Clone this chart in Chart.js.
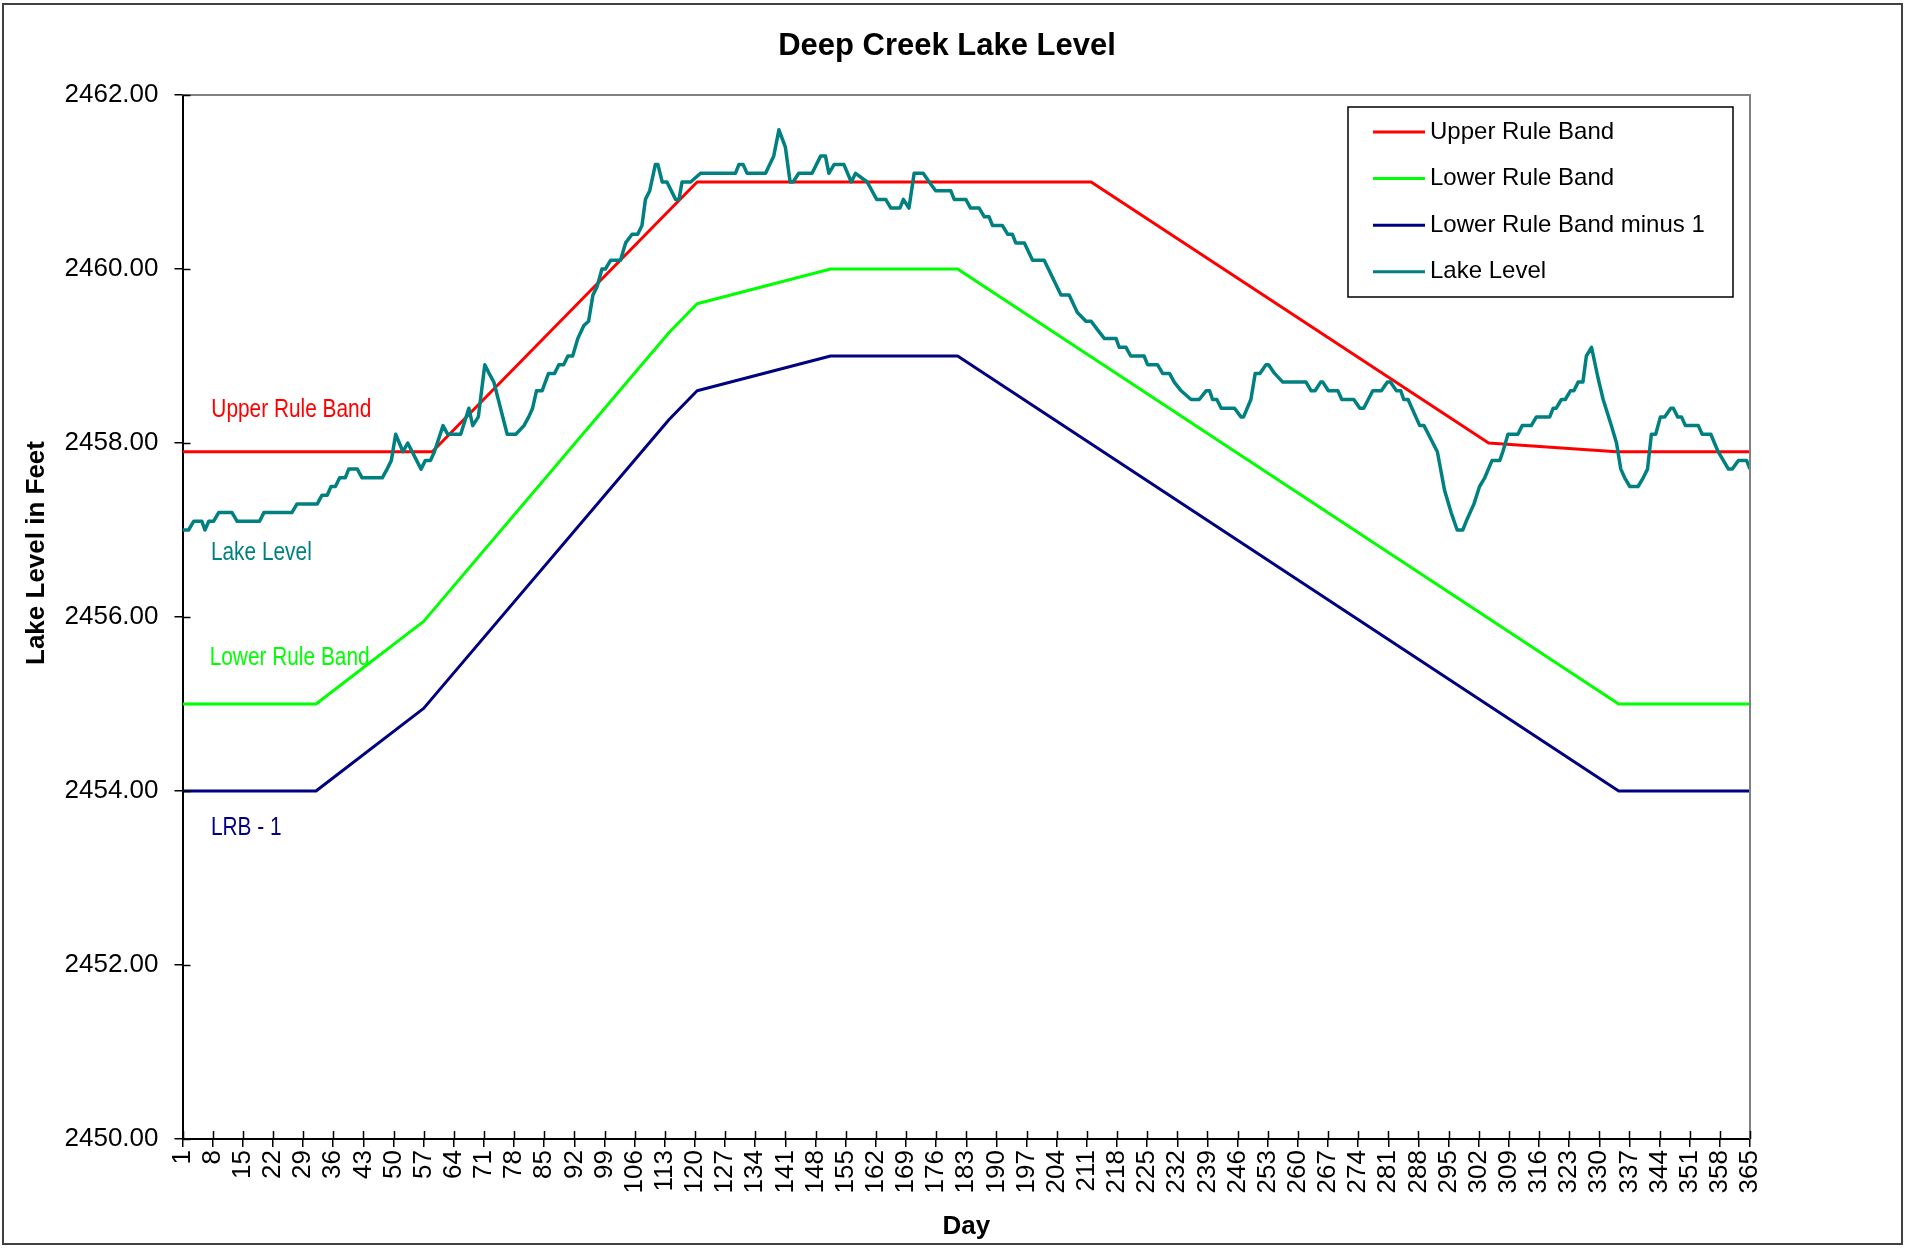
<!DOCTYPE html>
<html>
<head>
<meta charset="utf-8">
<title>Deep Creek Lake Level</title>
<script src="https://cdn.jsdelivr.net/npm/chart.js@4.4.1/dist/chart.umd.min.js"></script>
<style>
  html, body { margin: 0; padding: 0; background: #fff; }
  #wrap { position: relative; width: 1908px; height: 1248px; }
</style>
</head>
<body>
<div id="wrap"><canvas id="chart" width="1908" height="1248"></canvas></div>
<script>
// Deep Creek Lake level vs. rule bands, one calendar year (day 1..365)
// Values; [day, feet] vertices of each line

const DAY_TICKS = [1, 8, 15, 22, 29, 36, 43, 50, 57, 64, 71, 78, 85, 92, 99, 106, 113, 120, 127,
  134, 141, 148, 155, 162, 169, 176, 183, 190, 197, 204, 211, 218, 225, 232, 239, 246, 253, 260,
  267, 274, 281, 288, 295, 302, 309, 316, 323, 330, 337, 344, 351, 358, 365];

const UPPER_BAND = [[1, 2457.9], [59, 2457.9], [120.5, 2461.0], [212, 2461.0], [304.3, 2458.0],
  [334, 2457.9], [365, 2457.9]];

const LOWER_BAND = [[1, 2455.0], [32, 2455.0], [57, 2455.95], [114, 2459.27], [120.5, 2459.6],
  [151.5, 2460.0], [181, 2460.0], [334.5, 2455.0], [365, 2455.0]];

const LOWER_BAND_MINUS_1 = [[1, 2454.0], [32, 2454.0], [57, 2454.95], [114, 2458.27], [120.5, 2458.6],
  [151.5, 2459.0], [181, 2459.0], [334.5, 2454.0], [365, 2454.0]];

const LAKE_LEVEL = [
  [1, 2457.0], [2.4, 2457.0], [3.6, 2457.1], [5.5, 2457.1], [6.2, 2457.0], [7.1, 2457.1], [8.2, 2457.1],
  [9.4, 2457.2], [12.5, 2457.2], [13.7, 2457.1], [18.9, 2457.1], [19.9, 2457.2], [26.4, 2457.2],
  [27.6, 2457.3], [32.3, 2457.3], [33.4, 2457.4], [34.6, 2457.4], [35.5, 2457.5], [36.5, 2457.5],
  [37.5, 2457.6], [38.8, 2457.6], [39.6, 2457.7], [41.6, 2457.7], [42.7, 2457.6], [47.4, 2457.6],
  [48.5, 2457.7], [49.5, 2457.8], [50.5, 2458.1], [52.2, 2457.9], [53.3, 2458.0], [56.4, 2457.7],
  [57.4, 2457.8], [58.6, 2457.8], [59.5, 2457.9], [61.5, 2458.2], [62.6, 2458.1], [65.6, 2458.1],
  [67.5, 2458.4], [68.4, 2458.2], [69.7, 2458.3], [71.2, 2458.9], [72.2, 2458.8], [73.3, 2458.7],
  [76.4, 2458.1], [78.4, 2458.1], [80.3, 2458.2], [81.4, 2458.3], [82.3, 2458.4], [83.2, 2458.6],
  [84.5, 2458.6], [86.0, 2458.8], [87.4, 2458.8], [88.4, 2458.9], [89.5, 2458.9], [90.5, 2459.0],
  [91.6, 2459.0], [92.8, 2459.2], [94.2, 2459.35], [95.3, 2459.4], [96.3, 2459.7], [97.3, 2459.8],
  [98.4, 2460.0], [99.2, 2460.0], [100.4, 2460.1], [102.7, 2460.1], [103.9, 2460.3], [105.4, 2460.4],
  [106.7, 2460.4], [107.7, 2460.5], [108.5, 2460.8], [109.5, 2460.9], [110.8, 2461.2], [111.4, 2461.2],
  [112.4, 2461.0], [113.5, 2461.0], [115.5, 2460.8], [116.3, 2460.8], [117.0, 2461.0], [119.0, 2461.0],
  [121.3, 2461.1], [129.4, 2461.1], [130.2, 2461.2], [131.2, 2461.2], [132.1, 2461.1], [136.4, 2461.1],
  [138.3, 2461.3], [139.5, 2461.6], [141.0, 2461.4], [142.1, 2461.0], [142.8, 2461.0], [144.1, 2461.1],
  [147.2, 2461.1], [149.2, 2461.3], [150.3, 2461.3], [151.1, 2461.1], [152.3, 2461.2], [154.6, 2461.2],
  [156.3, 2461.0], [157.3, 2461.1], [160.0, 2461.0], [162.2, 2460.8], [164.3, 2460.8], [165.5, 2460.7],
  [167.6, 2460.7], [168.4, 2460.8], [169.7, 2460.7], [170.9, 2461.1], [173.0, 2461.1], [174.4, 2461.0],
  [175.9, 2460.9], [179.4, 2460.9], [180.2, 2460.8], [182.9, 2460.8], [184.0, 2460.7], [186.0, 2460.7],
  [187.2, 2460.6], [188.3, 2460.6], [189.1, 2460.5], [191.4, 2460.5], [192.6, 2460.4], [193.7, 2460.4],
  [194.5, 2460.3], [196.5, 2460.3], [198.4, 2460.1], [201.1, 2460.1], [205.0, 2459.7], [206.9, 2459.7],
  [208.8, 2459.5], [210.8, 2459.4], [212.0, 2459.4], [213.5, 2459.3], [215.1, 2459.2], [217.8, 2459.2],
  [218.5, 2459.1], [220.1, 2459.1], [221.2, 2459.0], [224.3, 2459.0], [225.1, 2458.9], [227.4, 2458.9],
  [228.6, 2458.8], [230.2, 2458.8], [231.3, 2458.7], [232.9, 2458.6], [235.2, 2458.5], [237.1, 2458.5],
  [238.7, 2458.6], [239.5, 2458.6], [240.2, 2458.5], [241.2, 2458.5], [242.2, 2458.4], [245.3, 2458.4],
  [246.8, 2458.3], [247.4, 2458.3], [249.1, 2458.5], [250.1, 2458.8], [251.2, 2458.8], [252.6, 2458.9],
  [253.2, 2458.9], [254.6, 2458.8], [256.5, 2458.7], [261.9, 2458.7], [263.1, 2458.6], [264.0, 2458.6],
  [265.3, 2458.7], [265.8, 2458.7], [267.1, 2458.6], [269.3, 2458.6], [270.2, 2458.5], [273.0, 2458.5],
  [274.4, 2458.4], [275.3, 2458.4], [277.4, 2458.6], [279.4, 2458.6], [280.8, 2458.7], [281.5, 2458.7],
  [282.9, 2458.6], [283.9, 2458.6], [284.6, 2458.5], [285.6, 2458.5], [288.3, 2458.2], [289.3, 2458.2],
  [292.4, 2457.9], [294.1, 2457.45], [295.6, 2457.2], [297.0, 2457.0], [298.3, 2457.0], [299.1, 2457.1],
  [300.9, 2457.3], [302.2, 2457.5], [303.4, 2457.6], [305.1, 2457.8], [306.9, 2457.8], [307.6, 2457.9],
  [308.8, 2458.1], [311.1, 2458.1], [312.1, 2458.2], [314.2, 2458.2], [315.4, 2458.3], [318.5, 2458.3],
  [319.3, 2458.4], [320.0, 2458.4], [321.2, 2458.5], [322.1, 2458.5], [323.3, 2458.6], [324.1, 2458.6],
  [325.1, 2458.7], [326.2, 2458.7], [327.0, 2459.0], [328.2, 2459.1], [329.7, 2458.75], [330.9, 2458.5],
  [332.8, 2458.2], [334.0, 2458.0], [335.0, 2457.7], [335.9, 2457.6], [337.1, 2457.5], [339.0, 2457.5],
  [340.2, 2457.6], [341.2, 2457.7], [342.1, 2458.1], [343.1, 2458.1], [344.2, 2458.3], [345.2, 2458.3],
  [346.6, 2458.4], [347.2, 2458.4], [348.2, 2458.3], [349.1, 2458.3], [350.0, 2458.2], [353.0, 2458.2],
  [353.9, 2458.1], [355.9, 2458.1], [357.6, 2457.9], [360.0, 2457.7], [360.9, 2457.7], [362.3, 2457.8],
  [364.2, 2457.8], [365, 2457.7]
];

const FONT = '"Liberation Sans", Arial, Helvetica, sans-serif';
Chart.defaults.font.family = FONT;
Chart.defaults.color = '#000';

const toXY = pts => pts.map(([x, y]) => ({ x, y }));

const AXIS_GRID = { drawOnChartArea: false, drawTicks: true, tickLength: 8, color: '#000', lineWidth: 1.5 };

// title, y title, in-plot notes, legend, borders (Excel look)
const decor = {
  id: 'decor',
  beforeDraw(chart) {
    const { ctx, width, height } = chart;
    ctx.save();
    ctx.fillStyle = '#fff';
    ctx.fillRect(0, 0, width, height);
    ctx.restore();
  },
  afterDraw(chart) {
    const { ctx, chartArea: a, scales: { x, y } } = chart;
    ctx.save();

    // plot border top + right
    ctx.strokeStyle = '#808080';
    ctx.lineWidth = 2;
    ctx.beginPath();
    ctx.moveTo(a.left, a.top);
    ctx.lineTo(a.right, a.top);
    ctx.lineTo(a.right, a.bottom);
    ctx.stroke();

    // inner half of the "cross" tick marks
    ctx.strokeStyle = '#000';
    ctx.lineWidth = 1.5;
    ctx.beginPath();
    x.ticks.forEach(t => {
      const px = Math.round(x.getPixelForValue(t.value)) + 0.5;
      ctx.moveTo(px, a.bottom);
      ctx.lineTo(px, a.bottom - 8);
    });
    y.ticks.forEach(t => {
      const py = Math.round(y.getPixelForValue(t.value)) + 0.5;
      ctx.moveTo(a.left, py);
      ctx.lineTo(a.left + 8, py);
    });
    ctx.stroke();

    // chart title
    ctx.fillStyle = '#000';
    ctx.textAlign = 'center';
    ctx.textBaseline = 'middle';
    ctx.font = `bold 31px ${FONT}`;
    ctx.fillText('Deep Creek Lake Level', 947, 46);

    // y axis title
    ctx.save();
    ctx.translate(37, 553);
    ctx.rotate(-Math.PI / 2);
    ctx.font = `bold 26px ${FONT}`;
    ctx.fillText('Lake Level in Feet', 0, 0);
    ctx.restore();

    // series notes inside the plot, narrow font
    const notes = [
      { text: 'Upper Rule Band', color: '#FF0000', day: 7.7, level: 2458.30 },
      { text: 'Lake Level', color: '#008080', day: 7.6, level: 2456.65 },
      { text: 'Lower Rule Band', color: '#00FF00', day: 7.3, level: 2455.45 },
      { text: 'LRB - 1', color: '#000080', day: 7.6, level: 2453.5 },
    ];
    ctx.textAlign = 'left';
    ctx.textBaseline = 'alphabetic';
    ctx.font = `25px ${FONT}`;
    notes.forEach(n => {
      ctx.save();
      ctx.translate(x.getPixelForValue(n.day), y.getPixelForValue(n.level));
      ctx.scale(0.834, 1);
      ctx.fillStyle = n.color;
      ctx.fillText(n.text, 0, 0);
      ctx.restore();
    });

    // legend box
    const lx = 1348, ly = 107, lw = 385, lh = 190;
    ctx.fillStyle = '#fff';
    ctx.fillRect(lx, ly, lw, lh);
    ctx.strokeStyle = '#000';
    ctx.lineWidth = 1.5;
    ctx.strokeRect(lx, ly, lw, lh);
    ctx.font = `24px ${FONT}`;
    ctx.textBaseline = 'middle';
    chart.data.datasets.forEach((ds, i) => {
      const ry = 132 + i * 46.6;
      ctx.strokeStyle = ds.borderColor;
      ctx.lineWidth = 3;
      ctx.beginPath();
      ctx.moveTo(1373, ry);
      ctx.lineTo(1425, ry);
      ctx.stroke();
      ctx.fillStyle = '#000';
      ctx.fillText(ds.label, 1430, ry);
    });

    // outer chart frame
    ctx.strokeStyle = '#404040';
    ctx.lineWidth = 2;
    ctx.strokeRect(3, 4, 1899, 1240);
    ctx.restore();
  }
};

new Chart(document.getElementById('chart'), {
  type: 'line',
  data: {
    datasets: [
      { label: 'Upper Rule Band', data: toXY(UPPER_BAND), borderColor: '#FF0000', order: 1 },
      { label: 'Lower Rule Band', data: toXY(LOWER_BAND), borderColor: '#00FF00', order: 1 },
      { label: 'Lower Rule Band minus 1', data: toXY(LOWER_BAND_MINUS_1), borderColor: '#000080', order: 1 },
      { label: 'Lake Level', data: toXY(LAKE_LEVEL), borderColor: '#008080', borderWidth: 3.5, order: 0 },
    ],
  },
  options: {
    responsive: false,
    animation: false,
    devicePixelRatio: 1,
    layout: { padding: { top: 95, right: 158, bottom: 0, left: 0 } },
    elements: {
      line: { borderWidth: 3, tension: 0, fill: false, borderJoinStyle: 'round' },
      point: { radius: 0, hoverRadius: 0 },
    },
    plugins: {
      legend: { display: false },
      title: { display: false },
      tooltip: { enabled: false },
    },
    scales: {
      x: {
        type: 'linear', min: 1, max: 365,
        afterBuildTicks: s => { s.ticks = DAY_TICKS.map(v => ({ value: v })); },
        afterFit: s => { s.height = 109; },
        ticks: { autoSkip: false, minRotation: 90, maxRotation: 90, padding: 3, font: { size: 26 }, callback: v => String(v) },
        grid: AXIS_GRID,
        border: { color: '#000', width: 2 },
        title: { display: true, text: 'Day', font: { size: 26, weight: 'bold' }, padding: { top: 0, bottom: 6 } },
      },
      y: {
        min: 2450, max: 2462,
        afterFit: s => { s.width = 182.5; },
        ticks: { stepSize: 2, padding: 16, font: { size: 26 }, callback: v => v.toFixed(2) },
        grid: AXIS_GRID,
        border: { color: '#000', width: 2 },
      },
    },
  },
  plugins: [decor],
});
</script>
</body>
</html>
